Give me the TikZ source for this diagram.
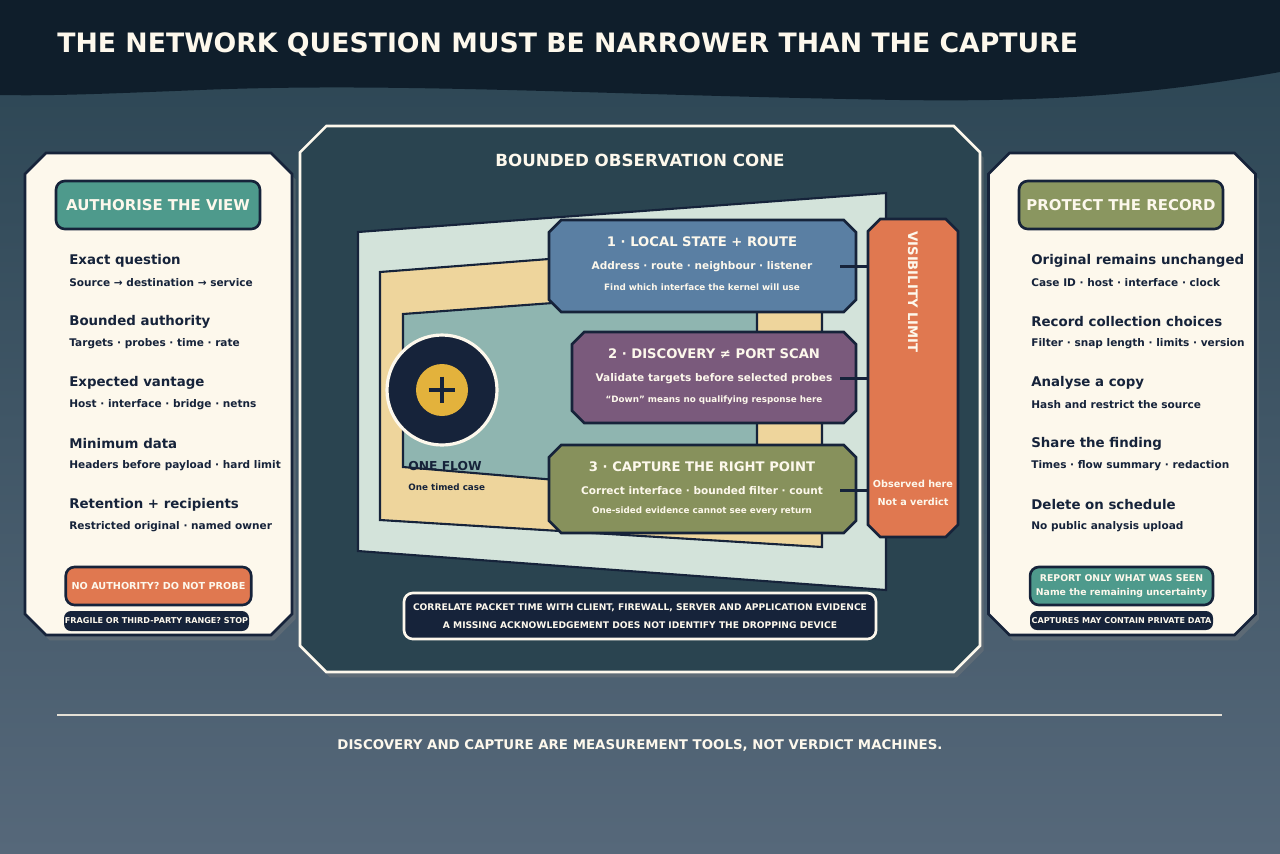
\documentclass[tikz,border=0pt]{standalone}
\usepackage{fontspec}
\setmainfont{DejaVu Sans}
\usetikzlibrary{positioning,shadows}
\definecolor{ink}{HTML}{16233A}
\definecolor{headband}{HTML}{0F1E2B}
\definecolor{cream}{HTML}{FDF8EC}
\definecolor{bgtop}{HTML}{2A4452}
\definecolor{bgbot}{HTML}{56687A}
\definecolor{panel}{HTML}{2A4450}
\definecolor{stepblue}{HTML}{5A7FA3}
\definecolor{steppurple}{HTML}{7A5A7C}
\definecolor{stepolive}{HTML}{87915C}
\definecolor{warn}{HTML}{E07850}
\definecolor{conelight}{HTML}{D3E3DA}
\definecolor{conetan}{HTML}{EED59C}
\definecolor{coneteal}{HTML}{8FB5B0}
\definecolor{badgeteal}{HTML}{4E9A8C}
\definecolor{badgeolive}{HTML}{8A9660}
\definecolor{flowgold}{HTML}{E3B23C}
\newcommand{\chamferbox}[3][]{% node name, chamfer
  \draw[#1] ([xshift=#3]#2.north west) -- ([xshift=-#3]#2.north east) -- ([yshift=-#3]#2.north east)
    -- ([yshift=#3]#2.south east) -- ([xshift=-#3]#2.south east) -- ([xshift=#3]#2.south west)
    -- ([yshift=#3]#2.south west) -- ([yshift=-#3]#2.north west) -- cycle;}
\tikzset{
  frame/.style={inner sep=0pt, outer sep=0pt},
  shade box/.style={drop shadow={opacity=0.35, shadow xshift=2pt, shadow yshift=-3pt}},
  badge/.style={rounded corners=5pt, draw=ink, line width=1.5pt, text=cream, font=\bfseries\fontsize{8.5}{10}\selectfont,
    minimum width=204*0.02cm, minimum height=48*0.02cm},
  head/.style={anchor=west, text=ink, font=\bfseries\fontsize{7.6}{9}\selectfont, inner sep=0pt},
  sub/.style={anchor=west, text=ink, font=\bfseries\fontsize{6}{7}\selectfont, inner sep=0pt},
  pill/.style={rounded corners=4pt, fill=ink, text=cream, font=\bfseries\fontsize{4.6}{6}\selectfont, inner sep=0pt},
  tip/.style={line width=1.5pt, draw=ink},
}
\begin{document}
\begin{tikzpicture}[x=0.02cm,y=-0.02cm]
  \useasboundingbox (0,0) rectangle (1280,853);
  % background and header
  \shade[top color=bgtop, bottom color=bgbot] (0,0) rectangle (1280,853);
  \fill[headband] (0,0) -- (1280,0) -- (1280,72) .. controls (1150,95) and (1050,102) .. (900,100)
    .. controls (600,95) and (400,82) .. (200,90) .. controls (100,94) and (50,96) .. (0,95) -- cycle;
  \node[anchor=west, text=cream, font=\bfseries\fontsize{15.2}{18}\selectfont, inner sep=0pt] (title) at (57,45)
    {THE NETWORK QUESTION MUST BE NARROWER THAN THE CAPTURE};

  % left panel
  \node[frame, minimum width=267*0.02cm, minimum height=482*0.02cm] (left) at (158.5,394) {};
  \chamferbox[fill=cream, draw=ink, line width=1.5pt, shade box]{left}{12pt}
  \node[badge, fill=badgeteal] (leftbadge) at (158,205) {AUTHORISE THE VIEW};
  \foreach \i/\h/\s in {0/Exact question/Source → destination → service,
                        1/Bounded authority/Targets · probes · time · rate,
                        2/Expected vantage/Host · interface · bridge · netns,
                        3/Minimum data/Headers before payload · hard limit,
                        4/Retention + recipients/Restricted original · named owner} {
    \node[head] (lh\i) at (69,261+61*\i) {\h};
    \node[sub] (ls\i) at (69,283+61*\i) {\s};
  }
  \node[rounded corners=5pt, draw=ink, line width=1.5pt, fill=warn, text=cream, font=\bfseries\fontsize{5.5}{6}\selectfont,
    minimum width=179*0.02cm, minimum height=38*0.02cm] (noauth) at (158.5,586) {NO AUTHORITY? DO NOT PROBE};
  \node[pill, minimum width=185*0.02cm, minimum height=20*0.02cm] (fragile) at (156.5,621) {FRAGILE OR THIRD-PARTY RANGE? STOP};

  % right panel
  \node[frame, minimum width=267*0.02cm, minimum height=482*0.02cm] (right) at (1122,394) {};
  \chamferbox[fill=cream, draw=ink, line width=1.5pt, shade box]{right}{12pt}
  \node[badge, fill=badgeolive] (rightbadge) at (1121,205) {PROTECT THE RECORD};
  \foreach \i/\h/\s in {0/Original remains unchanged/Case ID · host · interface · clock,
                        1/Record collection choices/Filter · snap length · limits · version,
                        2/Analyse a copy/Hash and restrict the source,
                        3/Share the finding/Times · flow summary · redaction,
                        4/Delete on schedule/No public analysis upload} {
    \node[head] (rh\i) at (1031,261+61*\i) {\h};
    \node[sub] (rs\i) at (1031,283+61*\i) {\s};
  }
  \node[rounded corners=5pt, draw=ink, line width=1.5pt, fill=badgeteal, text=cream, align=center,
    font=\bfseries\fontsize{5.3}{8}\selectfont, minimum width=181*0.02cm, minimum height=38*0.02cm] (report) at (1121.5,586)
    {REPORT ONLY WHAT WAS SEEN\\Name the remaining uncertainty};
  \node[pill, minimum width=183*0.02cm, minimum height=19*0.02cm] (private) at (1121.5,620.5) {CAPTURES MAY CONTAIN PRIVATE DATA};

  % centre panel
  \node[frame, minimum width=680*0.02cm, minimum height=546*0.02cm] (cone) at (640,399) {};
  \chamferbox[fill=panel, draw=cream, line width=1.5pt, shade box]{cone}{15pt}
  \node[text=cream, font=\bfseries\fontsize{9.5}{11}\selectfont] (conetitle) at (640,160) {BOUNDED OBSERVATION CONE};
  % cone layers
  \filldraw[fill=conelight, draw=ink, line width=1.2pt] (358,232) -- (886,193) -- (886,590) -- (358,551) -- cycle;
  \filldraw[fill=conetan, draw=ink, line width=1.2pt] (380,272) -- (822,238) -- (822,547) -- (380,520) -- cycle;
  \filldraw[fill=coneteal, draw=ink, line width=1.2pt] (403,314) -- (757,288) -- (757,497) -- (403,467) -- cycle;
  % flow
  \node[circle, fill=ink, draw=cream, line width=1.8pt, minimum size=110*0.02cm] (flow) at (442,390) {};
  \node[circle, fill=flowgold, minimum size=52*0.02cm, inner sep=0pt] (plus) at (442,390) {};
  \draw[ink, line width=2pt] (plus.north) ++(0,13) -- ++(0,26) (plus.west) ++(13,0) -- ++(26,0);
  \node[anchor=west, text=ink, font=\bfseries\fontsize{7}{8}\selectfont, inner sep=0pt] (oneflow) at (408,466) {ONE FLOW};
  \node[anchor=west, text=ink, font=\bfseries\fontsize{5}{6}\selectfont, inner sep=0pt] (onecase) at (408,487) {One timed case};
  % visibility limit
  \node[frame, minimum width=90*0.02cm, minimum height=318*0.02cm] (limit) at (913,378) {};
  \chamferbox[fill=warn, draw=ink, line width=1.5pt]{limit}{7pt}
  \node[rotate=-90, text=cream, font=\bfseries\fontsize{7.5}{9}\selectfont] (limittext) at (913,292) {VISIBILITY LIMIT};
  \node[text=cream, align=center, font=\bfseries\fontsize{5.5}{10}\selectfont] (observed) at (913,493) {Observed here\\Not a verdict};
  % steps
  \node[frame, minimum width=307*0.02cm, minimum height=92*0.02cm] (s1) at (702.5,266) {};
  \node[frame, minimum width=284*0.02cm, minimum height=91*0.02cm] (s2) at (714,377.5) {};
  \node[frame, minimum width=307*0.02cm, minimum height=88*0.02cm] (s3) at (702.5,489) {};
  \foreach \n/\c/\t/\a/\b/\x in {s1/stepblue/1 · LOCAL STATE + ROUTE/Address · route · neighbour · listener/Find which interface the kernel will use/702,
                      s2/steppurple/2 · DISCOVERY ≠ PORT SCAN/Validate targets before selected probes/“Down” means no qualifying response here/714,
                      s3/stepolive/3 · CAPTURE THE RIGHT POINT/Correct interface · bounded filter · count/One-sided evidence cannot see every return/702} {
    \chamferbox[fill=\c, draw=ink, line width=1.5pt]{\n}{7pt}
    \node[text=cream, font=\bfseries\fontsize{7.5}{9}\selectfont] (\n t) at ([yshift=-22*0.02cm]\n.north -| \x,0) {\t};
    \node[text=cream, font=\bfseries\fontsize{6}{7}\selectfont, below=1pt of \n t] (\n a) {\a};
    \node[text=cream, font=\bfseries\fontsize{5}{6}\selectfont, below=0pt of \n a] (\n b) {\b};
    \coordinate (\n c) at ([xshift=-16*0.02cm]\n.east |- \n a);
    \draw[tip] (\n c) -- (\n c -| limit.west);
  }
  % note
  \node[rounded corners=5pt, fill=ink, draw=cream, line width=1.5pt, text=cream, align=center,
    font=\bfseries\fontsize{5.2}{10}\selectfont, minimum width=472*0.02cm, minimum height=46*0.02cm] (note) at (640,616)
    {CORRELATE PACKET TIME WITH CLIENT, FIREWALL, SERVER AND APPLICATION EVIDENCE\\A MISSING ACKNOWLEDGEMENT DOES NOT IDENTIFY THE DROPPING DEVICE};

  % footer
  \coordinate (rulel) at (57,715);
  \coordinate (ruler) at (1222,715);
  \draw[cream!80!gray, line width=1.5pt] (rulel) -- (ruler);
  \node[text=cream, font=\bfseries\fontsize{7.6}{9}\selectfont] (footer) at (640,745)
    {DISCOVERY AND CAPTURE ARE MEASUREMENT TOOLS, NOT VERDICT MACHINES.};
\end{tikzpicture}
\end{document}
